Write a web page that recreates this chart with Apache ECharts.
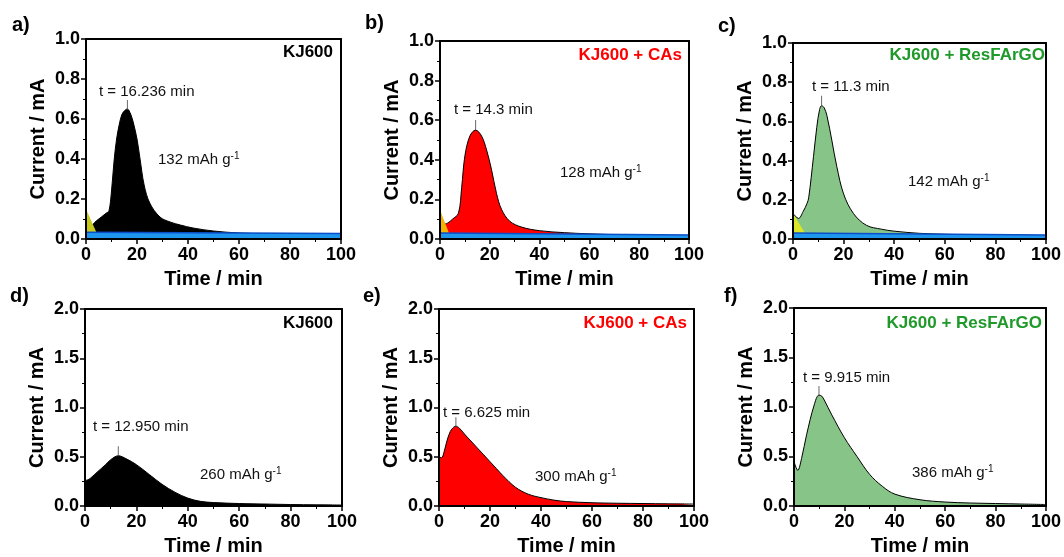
<!DOCTYPE html>
<html><head><meta charset="utf-8">
<script src="https://cdn.jsdelivr.net/npm/echarts@6/dist/echarts.min.js"></script>
<style>html,body{margin:0;padding:0;background:#fff}#c{width:1064px;height:557px}</style>
</head><body><div id="c"></div>
<script>
// ---------- DATA ----------
const timeA = [0, 2, 4, 6, 8, 9, 10, 11, 12, 13, 14, 15, 16.2, 17.5, 18.6, 20, 21.2, 22.8, 25, 29, 33, 37, 42, 50, 60, 70, 80, 90, 100];
const currA = [0.07, 0.07, 0.09, 0.11, 0.13, 0.14, 0.24, 0.39, 0.5, 0.57, 0.62, 0.64, 0.65, 0.625, 0.58, 0.5, 0.4, 0.27, 0.18, 0.11, 0.085, 0.07, 0.055, 0.04, 0.03, 0.026, 0.024, 0.022, 0.02];

const timeB = [0, 3, 5, 7.4, 8.7, 10, 12, 14.3, 16.7, 18.7, 20.7, 22.7, 24.7, 28, 32.8, 40, 50, 60, 70, 80, 90, 100];
const currB = [0.07, 0.08, 0.1, 0.13, 0.26, 0.42, 0.52, 0.55, 0.52, 0.45, 0.35, 0.23, 0.15, 0.09, 0.06, 0.042, 0.032, 0.026, 0.022, 0.02, 0.019, 0.018];

const timeC = [0, 2.2, 4, 5.5, 6.2, 8.1, 9.4, 10.5, 11.3, 12.3, 13.4, 15.4, 17.3, 20, 23.9, 29, 35, 40, 50, 60, 70, 80, 90, 100];
const currC = [0.13, 0.105, 0.14, 0.18, 0.21, 0.42, 0.57, 0.66, 0.68, 0.67, 0.63, 0.5, 0.37, 0.23, 0.13, 0.07, 0.05, 0.04, 0.029, 0.024, 0.021, 0.02, 0.019, 0.018];

const timeD = [0, 0.5, 2, 5, 8, 10, 12.95, 16, 20, 25, 30, 35, 40, 45, 50, 60, 70, 80, 90, 100];
const currD = [0.35, 0.26, 0.28, 0.35, 0.42, 0.47, 0.51, 0.48, 0.42, 0.32, 0.22, 0.14, 0.08, 0.047, 0.035, 0.025, 0.02, 0.015, 0.012, 0.01];

const timeE = [0, 1, 2, 3, 4, 5, 6.6, 8, 10, 12.5, 15, 17.5, 20, 22.5, 25, 30, 35, 40, 45, 50, 60, 70, 80, 90, 100];
const currE = [0.5, 0.49, 0.55, 0.65, 0.73, 0.78, 0.81, 0.79, 0.73, 0.66, 0.59, 0.52, 0.45, 0.38, 0.31, 0.19, 0.12, 0.085, 0.06, 0.045, 0.033, 0.028, 0.025, 0.022, 0.02];

const timeF = [0, 1.5, 3, 5, 8, 9.9, 11, 12, 15, 20, 25, 30, 35, 40, 50, 60, 70, 80, 90, 100];
const currF = [0.45, 0.36, 0.48, 0.72, 1.02, 1.12, 1.11, 1.07, 0.92, 0.69, 0.5, 0.32, 0.2, 0.12, 0.063, 0.04, 0.03, 0.025, 0.02, 0.015];

// initial (yellow) and baseline (blue) portions, top row only
const yellowTime = [[0, 4.2], [0, 3.6], [0, 4.7]];
const yellowCurr = [[0.15, 0.03], [0.146, 0.03], [0.13, 0.03]];
const blueTime = [[0, 100], [0, 100], [0, 100]];
const blueCurr = [[0.034, 0.027], [0.03, 0.02], [0.03, 0.021]];

const peakTimes = [16.236, 14.3, 11.3, 12.95, 6.625, 9.915];
const peakCurrents = [0.65, 0.555, 0.685, 0.515, 0.81, 1.12];
const peakLabels = ['t = 16.236 min', 't = 14.3 min', 't = 11.3 min', 't = 12.950 min', 't = 6.625 min', 't = 9.915 min'];
const capacities = ['132', '128', '142', '260', '300', '386'];
const sampleNames = ['KJ600', 'KJ600 + CAs', 'KJ600 + ResFArGO', 'KJ600', 'KJ600 + CAs', 'KJ600 + ResFArGO'];
const panelLetters = ['a)', 'b)', 'c)', 'd)', 'e)', 'f)'];
const yMax = [1.0, 1.0, 1.0, 2.0, 2.0, 2.0];
const yInterval = [0.2, 0.2, 0.2, 0.5, 0.5, 0.5];
const xTickInterval = 20;
const xAxisName = 'Time / min';
const yAxisName = 'Current / mA';

// ---------- STYLE / LAYOUT ----------
const FONT = "'Liberation Sans', Arial, sans-serif";
const times = [timeA, timeB, timeC, timeD, timeE, timeF];
const currs = [currA, currB, currC, currD, currE, currF];
const grids = [
  {left: 86, top: 39, width: 255, height: 200},
  {left: 440, top: 41, width: 249, height: 198},
  {left: 793, top: 43, width: 254, height: 196},
  {left: 85, top: 309, width: 257, height: 200},
  {left: 439, top: 309, width: 255, height: 200},
  {left: 794, top: 308, width: 255, height: 201}
];
const fillColors = ['#000000', '#ff0000', '#87c487', '#000000', '#ff0000', '#87c487'];
const nameColors = ['#000000', '#ff0000', '#1f9a2a', '#000000', '#ff0000', '#1f9a2a'];
const yellowColors = ['#c8c81e', '#f2b400', '#dce628'];
const letterPos = [[12, 25], [365, 23], [718, 26], [10, 296], [363, 296], [724, 296]];
const namePos = [[333, 52], [682, 55], [1045, 55], [333, 323], [687, 323], [1042, 323]];
const peakLabelPos = [[99, 92], [454, 110], [812, 87], [93, 427], [443, 413], [803, 378]];
const capPos = [[158, 160], [560, 173], [908, 182], [200, 475], [535, 477], [912, 473]];

const zip = (a, b) => a.map((v, i) => [v, b[i]]);

const xAxes = [], yAxes = [], series = [], graphics = [];
grids.forEach((g, i) => {
  xAxes.push({
    gridIndex: i, type: 'value', min: 0, max: 100, interval: xTickInterval, position: 'bottom', z: 10,
    axisLine: {show: true, onZero: false, lineStyle: {color: '#000', width: 2}},
    axisTick: {show: true, length: 5, lineStyle: {color: '#000', width: 1.5}},
    minorTick: {show: true, splitNumber: 2, length: 3, lineStyle: {color: '#000', width: 1}},
    splitLine: {show: false},
    axisLabel: {fontSize: 18, fontWeight: 'bold', color: '#000', margin: 7, fontFamily: FONT},
    name: xAxisName, nameLocation: 'middle', nameGap: 30,
    nameTextStyle: {fontSize: 20, fontWeight: 'bold', color: '#000', fontFamily: FONT, verticalAlign: 'top'}
  });
  xAxes.push({
    gridIndex: i, type: 'value', min: 0, max: 100, position: 'top', z: 10,
    axisLine: {show: true, onZero: false, lineStyle: {color: '#000', width: 2}},
    axisTick: {show: false}, axisLabel: {show: false}, splitLine: {show: false}
  });
  yAxes.push({
    gridIndex: i, type: 'value', min: 0, max: yMax[i], interval: yInterval[i], position: 'left', z: 10,
    axisLine: {show: true, onZero: false, lineStyle: {color: '#000', width: 2}},
    axisTick: {show: true, length: 5, lineStyle: {color: '#000', width: 1.5}},
    minorTick: {show: true, splitNumber: 2, length: 3, lineStyle: {color: '#000', width: 1}},
    splitLine: {show: false},
    axisLabel: {fontSize: 18, fontWeight: 'bold', color: '#000', margin: 6, fontFamily: FONT,
      formatter: v => v.toFixed(1)},
    name: yAxisName, nameLocation: 'middle', nameGap: 38,
    nameTextStyle: {fontSize: 20, fontWeight: 'bold', color: '#000', fontFamily: FONT}
  });
  yAxes.push({
    gridIndex: i, type: 'value', min: 0, max: yMax[i], position: 'right', z: 10,
    axisLine: {show: true, onZero: false, lineStyle: {color: '#000', width: 2}},
    axisTick: {show: false}, axisLabel: {show: false}, splitLine: {show: false}
  });

  series.push({
    type: 'line', xAxisIndex: 2 * i, yAxisIndex: 2 * i, data: zip(times[i], currs[i]),
    smooth: 0.35, symbol: 'none', z: 2,
    lineStyle: {color: '#000', width: 1},
    areaStyle: {color: fillColors[i], opacity: 1}
  });
  if (i < 3) {
    series.push({
      type: 'line', xAxisIndex: 2 * i, yAxisIndex: 2 * i, data: zip(yellowTime[i], yellowCurr[i]),
      symbol: 'none', z: 3, lineStyle: {width: 0},
      areaStyle: {color: yellowColors[i], opacity: 1}
    });
    series.push({
      type: 'line', xAxisIndex: 2 * i, yAxisIndex: 2 * i, data: zip(blueTime[i], blueCurr[i]),
      symbol: 'none', z: 4, lineStyle: {color: '#0a4fc8', width: 1.5},
      areaStyle: {color: '#1e96ee', opacity: 1}
    });
  }
  series.push({
    type: 'scatter', xAxisIndex: 2 * i, yAxisIndex: 2 * i, data: [[peakTimes[i], peakCurrents[i]]],
    symbol: 'rect', symbolSize: [1, 10], symbolOffset: [0, -4], z: 5,
    itemStyle: {color: '#444'}, silent: true
  });

  graphics.push({type: 'text', x: letterPos[i][0], y: letterPos[i][1], z: 20,
    style: {text: panelLetters[i], font: 'bold 20px ' + FONT, fill: '#000', textVerticalAlign: 'middle'}});
  graphics.push({type: 'text', x: namePos[i][0], y: namePos[i][1], z: 20,
    style: {text: sampleNames[i], font: 'bold 17px ' + FONT, fill: nameColors[i], textAlign: 'right', textVerticalAlign: 'middle'}});
  graphics.push({type: 'text', x: peakLabelPos[i][0], y: peakLabelPos[i][1], z: 20,
    style: {text: peakLabels[i], font: '15px ' + FONT, fill: '#111', textVerticalAlign: 'middle'}});
  graphics.push({type: 'text', x: capPos[i][0], y: capPos[i][1], z: 20,
    style: {text: '{a|' + capacities[i] + ' mAh g}{s|-1}', textVerticalAlign: 'middle', fill: '#111',
      rich: {a: {fontSize: 15, fontFamily: FONT, fill: '#111', color: '#111'},
             s: {fontSize: 10, fontFamily: FONT, fill: '#111', color: '#111', verticalAlign: 'top', padding: [0, 0, 8, 0]}}}});
});

const chart = echarts.init(document.getElementById('c'), null, {renderer: 'canvas'});
chart.setOption({
  animation: false,
  backgroundColor: '#fff',
  grid: grids,
  xAxis: xAxes,
  yAxis: yAxes,
  series: series,
  graphic: graphics
});
</script>
</body></html>
